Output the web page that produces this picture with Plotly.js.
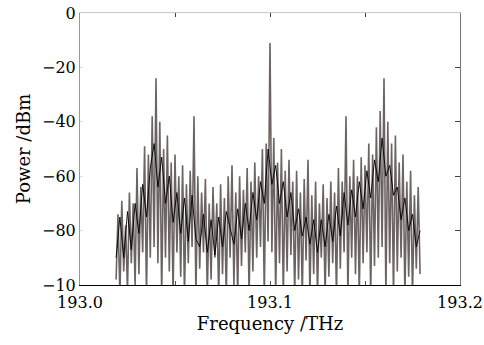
<!DOCTYPE html>
<html>
<head>
<meta charset="utf-8">
<script src="https://cdn.plot.ly/plotly-3.0.1.min.js"></script>
<style>html,body{margin:0;padding:0;background:#fff;}#chart{width:484px;height:345px;}</style>
</head>
<body>
<div id="chart"></div>
<script>
// Sampled frequency grid (THz)
const freq = [
193.019,193.020,193.021,193.022,193.023,193.024,193.025,193.026,193.027,193.028,
193.029,193.030,193.031,193.032,193.033,193.034,193.035,193.036,193.037,193.038,
193.039,193.040,193.041,193.042,193.043,193.044,193.045,193.046,193.047,193.048,
193.049,193.050,193.051,193.052,193.053,193.054,193.055,193.056,193.057,193.058,
193.059,193.060,193.061,193.062,193.063,193.064,193.065,193.066,193.067,193.068,
193.069,193.070,193.071,193.072,193.073,193.074,193.075,193.076,193.077,193.078,
193.079,193.080,193.081,193.082,193.083,193.084,193.085,193.086,193.087,193.088,
193.089,193.090,193.091,193.092,193.093,193.094,193.095,193.096,193.097,193.098,
193.099,193.100,193.101,193.102,193.103,193.104,193.105,193.106,193.107,193.108,
193.109,193.110,193.111,193.112,193.113,193.114,193.115,193.116,193.117,193.118,
193.119,193.120,193.121,193.122,193.123,193.124,193.125,193.126,193.127,193.128,
193.129,193.130,193.131,193.132,193.133,193.134,193.135,193.136,193.137,193.138,
193.139,193.140,193.141,193.142,193.143,193.144,193.145,193.146,193.147,193.148,
193.149,193.150,193.151,193.152,193.153,193.154,193.155,193.156,193.157,193.158,
193.159,193.160,193.161,193.162,193.163,193.164,193.165,193.166,193.167,193.168,
193.169,193.170,193.171,193.172,193.173,193.174,193.175,193.176,193.177,193.178,
193.179];

// Measured power (dBm), one value per frequency sample
const power = [
-98,-74,-104,-69,-95,-78,-102,-66,-92,-70,
-100,-57,-96,-64,-88,-49,-104,-52,-90,-38,
-86,-24,-92,-40,-104,-50,-90,-45,-95,-55,
-104,-52,-88,-60,-97,-56,-104,-63,-92,-58,
-86,-38,-104,-60,-94,-66,-88,-61,-104,-70,
-98,-64,-90,-70,-104,-63,-96,-68,-104,-60,
-90,-56,-100,-66,-104,-60,-93,-65,-88,-57,
-104,-62,-95,-55,-90,-60,-86,-50,-104,-48,
-84,-11,-88,-46,-104,-55,-92,-50,-104,-58,
-95,-54,-89,-62,-104,-58,-98,-66,-104,-61,
-91,-54,-104,-67,-96,-62,-104,-70,-90,-63,
-104,-68,-97,-62,-92,-66,-104,-57,-94,-62,
-88,-38,-104,-60,-90,-54,-96,-60,-104,-53,
-92,-56,-88,-48,-104,-52,-93,-42,-90,-36,
-86,-24,-104,-40,-92,-48,-104,-45,-95,-55,
-90,-52,-104,-62,-97,-58,-104,-67,-94,-64,
-96];

// Averaged (dense) level, every second frequency sample
const meanLevel = [
-90,-75,-90,-73,-87,-70,-81,-63,-75,-57,
-48,-64,-53,-70,-60,-77,-66,-81,-68,-84,
-67,-83,-86,-74,-88,-76,-89,-75,-86,-73,
-79,-85,-72,-83,-70,-80,-66,-76,-62,-70,
-50,-63,-56,-70,-62,-75,-66,-80,-72,-82,
-75,-85,-76,-88,-76,-86,-74,-84,-71,-82,
-66,-78,-65,-75,-62,-72,-58,-68,-54,-62,
-46,-60,-56,-67,-64,-76,-68,-80,-74,-86,
-80];

const xTickVals = [193.0, 193.05, 193.1, 193.15, 193.2];
const xTickText = ['193.0', '', '193.1', '', '193.2'];
const yTickVals = [0, -20, -40, -60, -80, -100];
const yTickText = ['0', '\u221220', '\u221240', '\u221260', '\u221280', '\u221210'];

const meanFreq = freq.filter((f, i) => i % 2 === 0);

const font = 'DejaVu Serif, Liberation Serif, serif';

const traces = [
  {x: freq, y: power, type: 'scatter', mode: 'lines',
   line: {color: 'rgb(108,100,98)', width: 1.6}, hoverinfo: 'skip', showlegend: false},
  {x: meanFreq, y: meanLevel, type: 'scatter', mode: 'lines', xaxis: 'x2', yaxis: 'y2',
   line: {color: 'rgba(0,0,0,0.9)', width: 1}, hoverinfo: 'skip', showlegend: false}
];

const layout = {
  width: 484, height: 345,
  margin: {l: 80, r: 24, t: 13, b: 60},
  paper_bgcolor: '#fff', plot_bgcolor: '#fff',
  showlegend: false,
  font: {family: font, color: '#000'},
  xaxis: {
    range: [193.0, 193.2], tickvals: xTickVals, ticktext: xTickText,
    ticks: 'inside', ticklen: 4, tickcolor: '#555', tickwidth: 1,
    showline: true, linecolor: '#000', linewidth: 1,
    showgrid: false, zeroline: false, ticklabelstandoff: 3,
    tickfont: {family: font, size: 16, color: '#000'},
    title: {text: 'Frequency /THz', font: {family: font, size: 18, color: '#000'}, standoff: 6}
  },
  yaxis: {
    range: [-100, 0], tickvals: yTickVals, ticktext: yTickText,
    ticks: 'inside', ticklen: 3, tickcolor: '#ddd', tickwidth: 1,
    showline: true, linecolor: '#999', linewidth: 1,
    showgrid: false, zeroline: false,
    tickfont: {family: font, size: 16, color: '#000'},
    title: {text: 'Power /dBm', font: {family: font, size: 18, color: '#000'}, standoff: 6}
  },
  xaxis2: {
    overlaying: 'x', anchor: 'y2', side: 'top', range: [193.0, 193.2],
    tickvals: [193.05, 193.1, 193.15], ticks: 'inside', ticklen: 4, tickcolor: '#444',
    showticklabels: false, showline: true, linecolor: '#c8c8c8', linewidth: 1,
    showgrid: false, zeroline: false
  },
  yaxis2: {
    overlaying: 'y', anchor: 'x2', side: 'right', range: [-100, 0],
    tickvals: [0, -20, -40, -60, -80, -100], ticks: 'inside', ticklen: 5, tickcolor: '#444',
    showticklabels: false, showline: true, linecolor: '#777', linewidth: 1,
    showgrid: false, zeroline: false
  }
};

Plotly.newPlot('chart', traces, layout, {staticPlot: true, displayModeBar: false});
</script>
</body>
</html>
